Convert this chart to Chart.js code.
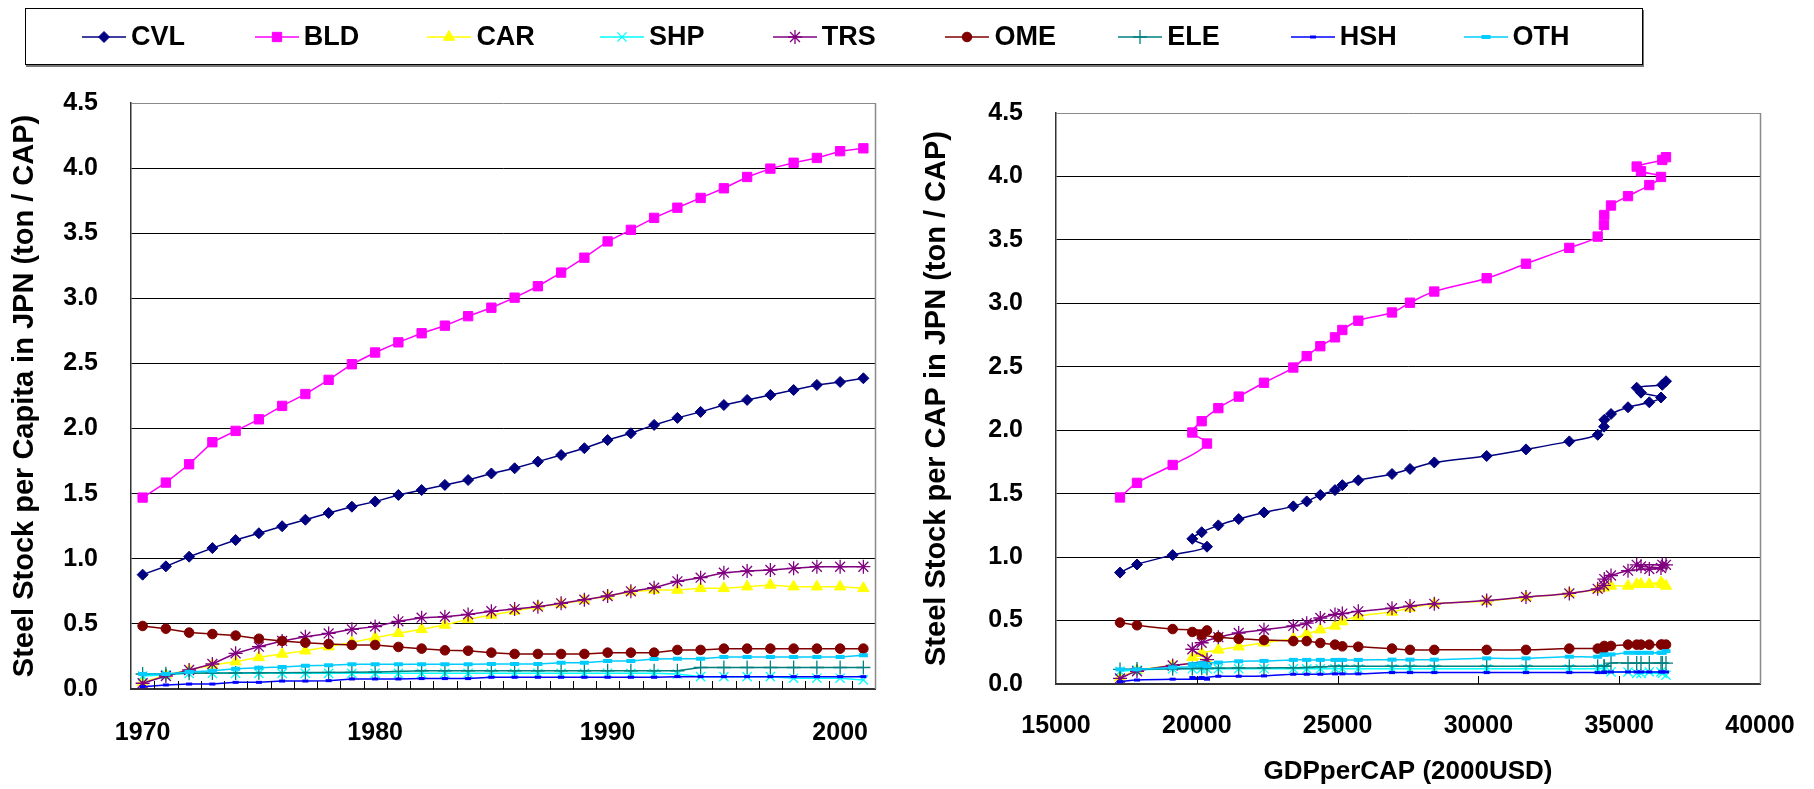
<!DOCTYPE html>
<html>
<head>
<meta charset="utf-8">
<script src="https://cdn.jsdelivr.net/npm/chart.js@4/dist/chart.umd.min.js"></script>
<style>
  html, body { margin: 0; padding: 0; background: #fff; }
  body { width: 1814px; height: 789px; position: relative; overflow: hidden; }
  #left  { position: absolute; left: 0;   top: 0; width: 900px; height: 789px; }
  #right { position: absolute; left: 900px; top: 0; width: 914px; height: 789px; }
  #legend {
    position: absolute; left: 25px; top: 8px; width: 1618px; height: 57px;
    border: 1px solid #000; box-shadow: 1px 2px 0 #777; background: #fff;
    display: flex; align-items: center; box-sizing: border-box;
    padding-left: 55px; z-index: 2;
  }
  .item { display: flex; align-items: center; width: 172.7px; flex: none; }
  .item canvas { width: 46px; height: 30px; display: block; }
  .item span {
    margin-left: 4px; font: bold 27px "Liberation Sans", Arial, sans-serif; color: #000;
  }
</style>
</head>
<body>
<canvas id="left" width="900" height="789"></canvas>
<canvas id="right" width="914" height="789"></canvas>
<div id="legend"></div>
<script>
// Steel stock per capita in Japan by end use (ton / capita), 1970-2001
const years = [1970,1971,1972,1973,1974,1975,1976,1977,1978,1979,1980,1981,1982,1983,1984,1985,
               1986,1987,1988,1989,1990,1991,1992,1993,1994,1995,1996,1997,1998,1999,2000,2001];

// GDP per capita (2000 USD) for the same years
const gdpPerCap = [17273,17876,19143,20362,19841,20173,20765,21488,22386,23427,23903,24386,24908,25168,25735,26932,
                   27571,28434,30294,31690,33228,34236,34460,34470,34709,35313,36069,36484,35774,35621,36531,36662];

const cvl = [0.878,0.942,1.016,1.082,1.144,1.196,1.250,1.300,1.352,1.400,1.439,1.490,1.528,1.567,1.605,1.655,
             1.695,1.746,1.797,1.849,1.912,1.964,2.028,2.082,2.128,2.181,2.220,2.258,2.296,2.335,2.358,2.386];
const bld = [1.470,1.585,1.726,1.895,1.982,2.071,2.174,2.265,2.374,2.494,2.584,2.662,2.732,2.790,2.863,2.928,
             3.005,3.093,3.198,3.312,3.437,3.526,3.618,3.696,3.771,3.845,3.932,3.996,4.041,4.078,4.130,4.152];
const car = [0.050,0.107,0.146,0.184,0.210,0.243,0.269,0.294,0.325,0.358,0.394,0.428,0.458,0.492,0.535,0.568,
             0.599,0.632,0.653,0.684,0.714,0.747,0.760,0.760,0.773,0.773,0.786,0.799,0.786,0.786,0.786,0.773];
const shp = [0.100,0.110,0.120,0.120,0.120,0.120,0.120,0.120,0.120,0.120,0.120,0.120,0.120,0.120,0.120,0.120,
             0.120,0.120,0.120,0.120,0.120,0.120,0.120,0.115,0.095,0.095,0.095,0.095,0.083,0.083,0.083,0.070];
const trs = [0.044,0.100,0.146,0.192,0.274,0.325,0.369,0.402,0.427,0.458,0.479,0.520,0.548,0.555,0.573,0.597,
             0.614,0.632,0.658,0.686,0.714,0.750,0.778,0.827,0.855,0.893,0.906,0.914,0.927,0.939,0.939,0.939];
const ome = [0.484,0.463,0.433,0.422,0.410,0.386,0.369,0.356,0.346,0.338,0.338,0.323,0.310,0.297,0.294,0.279,
             0.269,0.269,0.269,0.269,0.279,0.279,0.279,0.300,0.300,0.310,0.310,0.310,0.310,0.310,0.310,0.310];
const ele = [0.115,0.118,0.120,0.122,0.123,0.124,0.125,0.126,0.127,0.128,0.130,0.135,0.140,0.140,0.140,0.140,
             0.140,0.140,0.140,0.140,0.140,0.140,0.140,0.140,0.165,0.165,0.165,0.165,0.165,0.165,0.165,0.165];
const hsh = [0.018,0.031,0.038,0.038,0.051,0.051,0.061,0.061,0.064,0.077,0.077,0.077,0.080,0.080,0.080,0.090,
             0.090,0.090,0.090,0.090,0.090,0.090,0.090,0.095,0.095,0.095,0.095,0.095,0.095,0.095,0.095,0.095];
const oth = [0.115,0.115,0.131,0.141,0.156,0.164,0.169,0.179,0.182,0.190,0.190,0.190,0.190,0.190,0.190,0.192,
             0.192,0.192,0.202,0.202,0.215,0.215,0.230,0.233,0.233,0.246,0.246,0.246,0.246,0.246,0.246,0.259];

const seriesNames = ['CVL','BLD','CAR','SHP','TRS','OME','ELE','HSH','OTH'];
const seriesData  = [cvl, bld, car, shp, trs, ome, ele, hsh, oth];
const yTickMax = 4.5, yTickStep = 0.5;
const gdpMin = 15000, gdpMax = 40000, gdpStep = 5000;

// marker look for each series
const styles = [
  { color: '#000080', pointStyle: 'rectRot',  radius: 5.5, pbw: 1 },
  { color: '#FF00FF', pointStyle: 'rect',     radius: 6.6, pbw: 1 },
  { color: '#FFFF00', pointStyle: 'triangle', radius: 6.5, pbw: 1 },
  { color: '#00FFFF', pointStyle: 'crossRot', radius: 6.5, pbw: 1.3 },
  { color: '#800080', pointStyle: 'star',     radius: 7,   pbw: 1.3 },
  { color: '#800000', pointStyle: 'circle',   radius: 4.8, pbw: 1 },
  { color: '#008080', pointStyle: 'cross',    radius: 7,   pbw: 1.3 },
  { color: '#0000FF', pointStyle: 'line',     radius: 3,   pbw: 3 },
  { color: '#00CCFF', pointStyle: 'line',     radius: 4.5, pbw: 4 }
];

const FONT = '"Liberation Sans", Arial, sans-serif';
Chart.defaults.font.family = FONT;
Chart.defaults.color = '#000';

function makeDatasets(xValues, tension) {
  return seriesNames.map((name, i) => {
    const s = styles[i];
    return {
      label: name,
      data: xValues ? seriesData[i].map((v, k) => ({ x: xValues[k], y: v })) : seriesData[i],
      borderColor: s.color,
      backgroundColor: s.color,
      borderWidth: 1.5,
      pointStyle: s.pointStyle,
      pointRadius: s.radius,
      pointHoverRadius: s.radius,
      pointBackgroundColor: s.color,
      pointBorderColor: s.color,
      pointBorderWidth: s.pbw,
      tension: tension,
      fill: false,
      order: seriesNames.length - i
    };
  });
}

// plot frame (right side) and short inward tick marks on the x axis
const frameTicks = {
  id: 'frameTicks',
  afterDraw(chart, args, opts) {
    const { ctx, chartArea: a, scales: { x } } = chart;
    ctx.save();
    ctx.lineWidth = 1.5;
    ctx.strokeStyle = '#8a8a8a';
    ctx.beginPath();
    ctx.moveTo(a.right + 0.5, a.top);
    ctx.lineTo(a.right + 0.5, a.bottom);
    ctx.stroke();
    ctx.lineWidth = 1;
    ctx.strokeStyle = '#000';
    ctx.beginPath();
    let pos = [];
    if (opts.mode === 'between') {
      for (let i = 1; i < x.ticks.length; i++) {
        pos.push((x.getPixelForValue(i - 1) + x.getPixelForValue(i)) / 2);
      }
    } else {
      x.ticks.forEach(t => {
        if (t.value > x.min && t.value < x.max) pos.push(x.getPixelForValue(t.value));
      });
    }
    pos.forEach(p => {
      const px = Math.round(p) + 0.5;
      ctx.moveTo(px, a.bottom);
      ctx.lineTo(px, a.bottom - 8);
    });
    ctx.stroke();
    ctx.restore();
  }
};

function yScale(title, width, titlePad) {
  return {
    min: 0, max: yTickMax,
    ticks: {
      stepSize: yTickStep,
      callback: v => Number(v).toFixed(1),
      font: { size: 25, weight: 'bold' },
      color: '#000',
      padding: 33
    },
    grid: {
      color: c => (c.tick && c.tick.value === yTickMax) ? '#8a8a8a' : '#000',
      lineWidth: 1,
      drawTicks: false
    },
    border: { display: true, color: '#333', width: 1.5 },
    title: {
      display: true, text: title,
      font: { size: 29, weight: 'bold' }, color: '#000',
      padding: { top: titlePad, bottom: 0 }
    },
    afterFit(s) { s.width = width; }
  };
}

// left panel: stock by year
new Chart(document.getElementById('left'), {
  type: 'line',
  data: { labels: years.map(String), datasets: makeDatasets(null, 0) },
  options: {
    responsive: false,
    animation: false,
    events: [],
    layout: { padding: { top: 103, right: 25, left: 0, bottom: 0 } },
    plugins: { legend: { display: false }, tooltip: { enabled: false }, frameTicks: { mode: 'between' } },
    scales: {
      x: {
        type: 'category',
        offset: true,
        grid: { display: false },
        border: { display: true, color: '#333', width: 2 },
        ticks: {
          autoSkip: false, maxRotation: 0,
          callback: (v, i) => (years[i] % 10 === 0 ? String(years[i]) : ''),
          font: { size: 25, weight: 'bold' }, color: '#000', padding: 21
        },
        afterFit(s) { s.height = 100; }
      },
      y: yScale('Steel Stock per Capita in JPN (ton / CAP)', 131, 8)
    }
  },
  plugins: [frameTicks]
});

// right panel: stock against GDP per capita
new Chart(document.getElementById('right'), {
  type: 'line',
  data: { datasets: makeDatasets(gdpPerCap, 0.35) },
  options: {
    responsive: false,
    animation: false,
    events: [],
    layout: { padding: { top: 113, right: 54, left: 0, bottom: 0 } },
    plugins: { legend: { display: false }, tooltip: { enabled: false }, frameTicks: { mode: 'ticks' } },
    scales: {
      x: {
        type: 'linear',
        min: gdpMin, max: gdpMax,
        grid: { display: false },
        border: { display: true, color: '#333', width: 2 },
        ticks: {
          stepSize: gdpStep, maxRotation: 0,
          callback: v => String(v),
          font: { size: 25, weight: 'bold' }, color: '#000', padding: 19
        },
        title: {
          display: true, text: 'GDPperCAP (2000USD)',
          font: { size: 26, weight: 'bold' }, color: '#000',
          padding: { top: 0, bottom: 2 }
        },
        afterFit(s) { s.height = 105; }
      },
      y: yScale('Steel Stock per CAP in JPN (ton / CAP)', 156, 20)
    }
  },
  plugins: [frameTicks]
});

// shared legend: line sample with marker, then the series name
const legendEl = document.getElementById('legend');
seriesNames.forEach((name, i) => {
  const s = styles[i];
  const item = document.createElement('div');
  item.className = 'item';
  const c = document.createElement('canvas');
  c.width = 46; c.height = 30;
  const g = c.getContext('2d');
  g.strokeStyle = s.color; g.fillStyle = s.color;
  g.lineWidth = 1.5;
  g.beginPath(); g.moveTo(1, 15); g.lineTo(45, 15); g.stroke();
  g.lineWidth = s.pbw;
  Chart.helpers.drawPoint(g, { pointStyle: s.pointStyle, radius: s.radius, borderWidth: s.pbw, rotation: 0 }, 23, 15);
  const t = document.createElement('span');
  t.textContent = name;
  item.appendChild(c);
  item.appendChild(t);
  legendEl.appendChild(item);
});
</script>
</body>
</html>
